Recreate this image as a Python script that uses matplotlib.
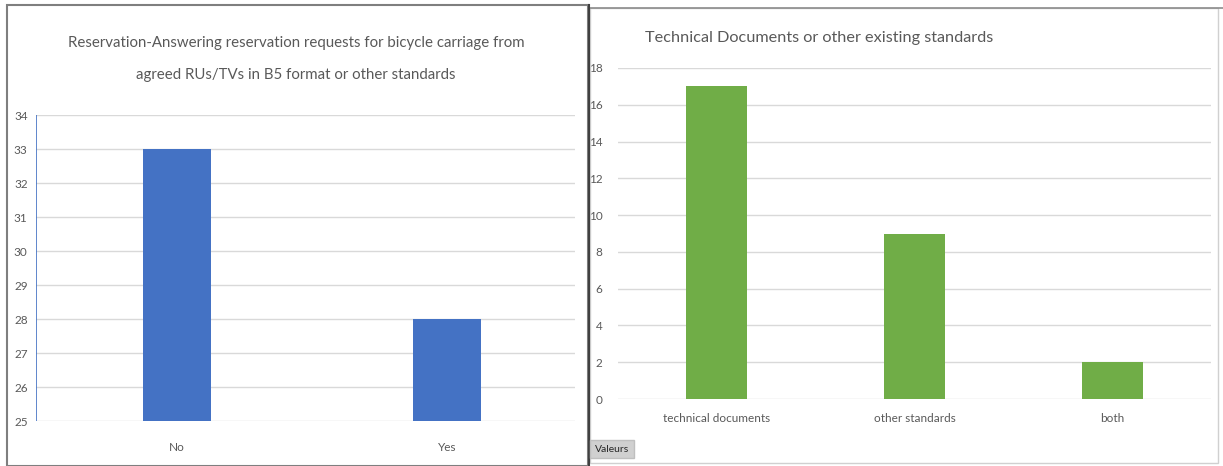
import matplotlib.pyplot as plt
from matplotlib.patches import Rectangle

plt.rcParams['font.family'] = ['DejaVu Sans Condensed', 'Lato', 'DejaVu Sans']

left_title = "Reservation-Answering reservation requests for bicycle carriage from\nagreed RUs/TVs in B5 format or other standards"
left_cats = ["No", "Yes"]
left_vals = [33, 28]

right_title = "Technical Documents or other existing standards"
right_cats = ["technical documents", "other standards", "both"]
right_vals = [17, 9, 2]

W, H = 1223, 466
GRID = '#d9d9d9'
TXT = '#595959'


def px(x0, y0, x1, y1):
    # pixel box -> figure fraction
    return [x0 / W, 1 - y1 / H, (x1 - x0) / W, (y1 - y0) / H]


def style_axis(ax):
    for s in ['top', 'right', 'bottom', 'left']:
        ax.spines[s].set_visible(False)
    ax.tick_params(axis='both', length=0, colors=TXT, labelsize=8.5)
    ax.yaxis.grid(True, color=GRID, linewidth=1)
    ax.set_axisbelow(True)


def main():
    fig = plt.figure(figsize=(W / 100, H / 100), dpi=100)

    # panel frames
    fig.add_artist(Rectangle((590 / W, 3 / H), (1218 - 590) / W, 1 - 11 / H, transform=fig.transFigure,
                             fill=False, edgecolor='#d0d0d0', linewidth=1))
    fig.add_artist(plt.Line2D([590 / W, 1223 / W], [1 - 8 / H, 1 - 8 / H], transform=fig.transFigure,
                              color='#8c8c8c', linewidth=1.2))
    fig.add_artist(Rectangle((7 / W, 0), (588 - 7) / W, 1 - 5 / H, transform=fig.transFigure,
                             fill=False, edgecolor='#7f7f7f', linewidth=1.5))
    fig.add_artist(plt.Line2D([589 / W, 589 / W], [0, 1 - 5 / H], transform=fig.transFigure,
                              color='#404040', linewidth=1.5))

    # left chart
    ax1 = fig.add_axes(px(36, 115, 575, 421))
    style_axis(ax1)
    ax1.bar(range(len(left_cats)), left_vals, width=0.25, color='#4472C4', zorder=3)
    ax1.set_ylim(25, 34)
    ax1.set_yticks(range(25, 35))
    ax1.set_xlim(-0.522, 1.474)
    ax1.set_xticks(range(len(left_cats)))
    ax1.set_xticklabels(left_cats)
    ax1.tick_params(axis='x', pad=15)
    ax1.tick_params(axis='y', pad=6)
    ax1.axvline(-0.522, color='#4472C4', linewidth=1.2, zorder=4)
    fig.text(296 / W, 1 - 59 / H, left_title, ha='center', va='center', fontsize=10.8,
             color=TXT, linespacing=2.55)

    # right chart
    ax2 = fig.add_axes(px(618, 68, 1211, 399))
    style_axis(ax2)
    ax2.bar(range(len(right_cats)), right_vals, width=0.31, color='#70AD47', zorder=3)
    ax2.set_ylim(0, 18)
    ax2.set_yticks(range(0, 19, 2))
    ax2.set_xlim(-0.5, 2.5)
    ax2.set_xticks(range(len(right_cats)))
    ax2.set_xticklabels(right_cats)
    ax2.tick_params(axis='x', pad=10)
    ax2.tick_params(axis='y', pad=11)
    fig.text(645 / W, 1 - 38 / H, right_title, ha='left', va='center', fontsize=11.7, color=TXT)

    fig.text(612 / W, 1 - 449 / H, "Valeurs", ha='center', va='center', fontsize=7.5, color='#262626',
             bbox=dict(boxstyle='square,pad=0.45', facecolor='#d0d0d0', edgecolor='#bfbfbf'))

    fig.savefig('out.png', dpi=100)


if __name__ == "__main__":
    main()
